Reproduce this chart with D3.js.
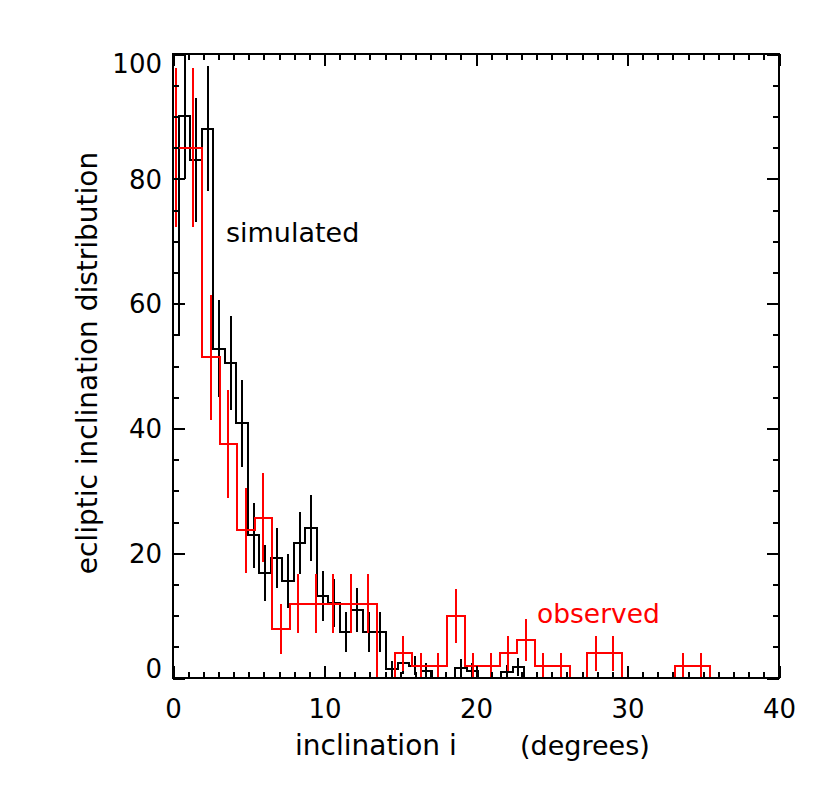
<!DOCTYPE html>
<html>
<head>
<meta charset="utf-8">
<script src="https://cdn.jsdelivr.net/npm/d3@7"></script>
<style>
  body { margin: 0; background: #fff; }
  svg { display: block; }
</style>
</head>
<body>
<div id="chart"></div>
<script>
// histogram bins (degrees)
var simBinStart = -0.38;
var simBinWidth = 0.76;
var obsBinStart = -0.38;
var obsBinWidth = 1.155;

// simulated distribution (black) and its error bars
var simValues = [55, 90, 83, 88, 52.8, 50.5, 40.8, 22.9, 16.8, 19.3, 15.5, 21.6, 24.1, 13.2, 12.0, 7.3,
  10.9, 7.3, 7.3, 1.4, 2.4, 2.0, 1.2, 0, 0, 1.6, 1.2, 0, 0, 1.0, 1.8];
var simErrors = [8, 10, 10, 10, 7.7, 7.5, 7, 5.2, 4.5, 4.8, 4.3, 5, 5.3, 4, 3.8, 3.2,
  3.6, 3.2, 3.2, 1.3, 1.7, 1.5, 1.2, 0, 0, 1.4, 1.2, 0, 0, 1.1, 1.4];

// observed distribution (red) and its error bars
var obsValues = [85, 85, 51.4, 37.5, 23.7, 25.7, 7.9, 11.9, 11.9, 11.9, 11.9, 11.9, 0, 4, 2, 2,
  9.9, 2, 2, 4, 6.1, 2, 2, 0, 4, 4, 0, 0, 0, 2, 2];
var obsErrors = [12.8, 12.8, 10, 8.6, 6.8, 7.1, 4, 4.7, 4.7, 4.7, 4.7, 4.7, 0, 2.8, 2, 2,
  4.3, 2, 2, 2.8, 3.4, 2, 2, 0, 2.8, 2.8, 0, 0, 0, 2, 2];

// axes
var xMajorTicks = [0, 10, 20, 30, 40];
var xMinorTicks = d3.range(0, 41, 1);
var yMajorTicks = [0, 20, 40, 60, 80, 100];
var yMinorTicks = d3.range(0, 101, 5);

var svgWidth = 830;
var svgHeight = 788;
var margin = { top: 54, right: 51, bottom: 110, left: 173 };
var chartWidth = svgWidth - margin.left - margin.right;
var chartHeight = svgHeight - margin.top - margin.bottom;

var FONT = "'DejaVu Sans', sans-serif";

var svg = d3.select("#chart")
  .append("svg")
  .attr("width", svgWidth)
  .attr("height", svgHeight);

svg.append("rect")
  .attr("width", svgWidth)
  .attr("height", svgHeight)
  .attr("fill", "#fff");

var chartGroup = svg.append("g")
  .attr("transform", `translate(${margin.left}, ${margin.top})`);

var x = d3.scaleLinear().domain([0, 40]).range([0, chartWidth]);
var y = d3.scaleLinear().domain([0, 100]).range([chartHeight, 0]);

chartGroup.append("clipPath")
  .attr("id", "plotClip")
  .append("rect")
  .attr("width", chartWidth)
  .attr("height", chartHeight);

// build step outline for a histogram
function histPoints(values, start, width) {
  var pts = [[start, 0]];
  values.forEach(function(v, i) {
    pts.push([start + i * width, v]);
  });
  var end = start + values.length * width;
  pts.push([end, values[values.length - 1]]);
  pts.push([end, 0]);
  return pts;
}

var stepLine = d3.line()
  .x(d => x(d[0]))
  .y(d => y(d[1]))
  .curve(d3.curveStepAfter);

function drawHistogram(values, errors, start, width, color) {
  var g = chartGroup.append("g")
    .attr("shape-rendering", "crispEdges");

  g.append("path")
    .attr("clip-path", "url(#plotClip)")
    .attr("d", stepLine(histPoints(values, start, width)))
    .attr("fill", "none")
    .attr("stroke", color)
    .attr("stroke-width", 2);

  // error bars at bin centres
  var bars = values.map(function(v, i) {
    return { c: start + (i + 0.5) * width, v: v, e: errors[i] };
  }).filter(d => d.v > 0 && d.e > 0);

  g.selectAll("line.err")
    .data(bars)
    .enter()
    .append("line")
    .attr("class", "err")
    .attr("x1", d => x(d.c))
    .attr("x2", d => x(d.c))
    .attr("y1", d => y(Math.max(0, d.v - d.e)))
    .attr("y2", d => y(Math.min(100, d.v + d.e)))
    .attr("stroke", color)
    .attr("stroke-width", 2);
}

drawHistogram(simValues, simErrors, simBinStart, simBinWidth, "#000");
drawHistogram(obsValues, obsErrors, obsBinStart, obsBinWidth, "#ff0000");

// AXES - ticks point inward on all four sides
function styleAxis(g) {
  g.select(".domain").remove();
  g.selectAll("line").attr("stroke", "#000").attr("stroke-width", 2)
    .attr("shape-rendering", "crispEdges");
  g.attr("font-family", FONT).attr("font-size", 26);
  g.selectAll("text").attr("fill", "#000");
}

// bottom
chartGroup.append("g")
  .attr("transform", `translate(0, ${chartHeight})`)
  .call(d3.axisBottom(x).tickValues(xMinorTicks).tickSize(-6).tickFormat(""))
  .call(styleAxis);
var xAxis = chartGroup.append("g")
  .attr("transform", `translate(0, ${chartHeight})`)
  .call(d3.axisBottom(x).tickValues(xMajorTicks).tickSize(-12).tickFormat(d3.format("d")))
  .call(styleAxis);
xAxis.selectAll("text").attr("y", 40).attr("dy", 0);

// top
chartGroup.append("g")
  .call(d3.axisTop(x).tickValues(xMinorTicks).tickSize(-6).tickFormat(""))
  .call(styleAxis);
chartGroup.append("g")
  .call(d3.axisTop(x).tickValues(xMajorTicks).tickSize(-12).tickFormat(""))
  .call(styleAxis);

// left
chartGroup.append("g")
  .call(d3.axisLeft(y).tickValues(yMinorTicks).tickSize(-6).tickFormat(""))
  .call(styleAxis);
var yAxis = chartGroup.append("g")
  .call(d3.axisLeft(y).tickValues(yMajorTicks).tickSize(-12).tickPadding(11).tickFormat(d3.format("d")))
  .call(styleAxis);
// keep end labels inside the frame height
yAxis.selectAll("text")
  .attr("dy", "0.36em")
  .attr("y", function(d) {
    var ty = y(d);
    var c = Math.min(Math.max(ty, 9.5), chartHeight - 9.5);
    return c - ty;
  });

// right
chartGroup.append("g")
  .attr("transform", `translate(${chartWidth}, 0)`)
  .call(d3.axisRight(y).tickValues(yMinorTicks).tickSize(-6).tickFormat(""))
  .call(styleAxis);
chartGroup.append("g")
  .attr("transform", `translate(${chartWidth}, 0)`)
  .call(d3.axisRight(y).tickValues(yMajorTicks).tickSize(-12).tickFormat(""))
  .call(styleAxis);

// frame
chartGroup.append("rect")
  .attr("width", chartWidth)
  .attr("height", chartHeight)
  .attr("fill", "none")
  .attr("stroke", "#000")
  .attr("stroke-width", 2)
  .attr("shape-rendering", "crispEdges");

// AXIS TITLES
chartGroup.append("text")
  .attr("x", 122)
  .attr("y", 701)
  .attr("font-family", FONT)
  .attr("font-size", 28)
  .text("inclination i");

chartGroup.append("text")
  .attr("x", 347)
  .attr("y", 701)
  .attr("font-family", FONT)
  .attr("font-size", 27)
  .text("(degrees)");

chartGroup.append("text")
  .attr("transform", "rotate(-90)")
  .attr("x", 0 - 309)
  .attr("y", 0 - 76)
  .attr("text-anchor", "middle")
  .attr("font-family", FONT)
  .attr("font-size", 28)
  .text("ecliptic inclination distribution");

// SERIES LABELS
chartGroup.append("text")
  .attr("x", 53)
  .attr("y", 188)
  .attr("font-family", FONT)
  .attr("font-size", 27)
  .attr("fill", "#000")
  .text("simulated");

chartGroup.append("text")
  .attr("x", 364)
  .attr("y", 569)
  .attr("font-family", FONT)
  .attr("font-size", 26.5)
  .attr("fill", "#ff0000")
  .text("observed");
</script>
</body>
</html>
